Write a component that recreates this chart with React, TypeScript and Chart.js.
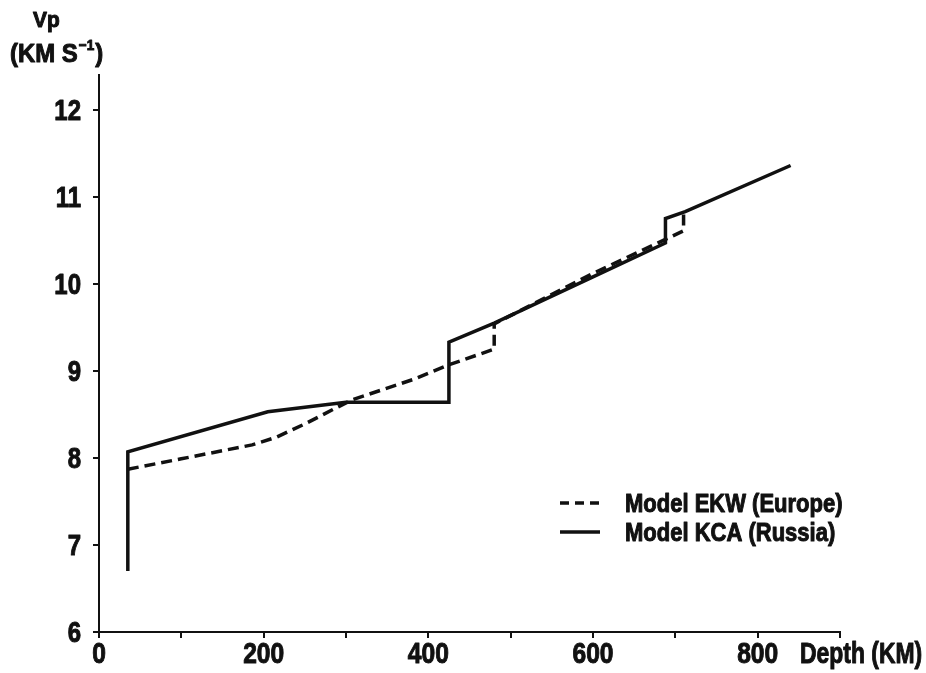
import React, { useEffect, useRef } from "react";
import { Chart, registerables } from "chart.js";

Chart.register(...registerables);

// KCA (Russia) model – solid line
const kcaDepth = [35, 35, 205, 300, 425, 425, 480, 600, 688, 688, 712, 840];
const kcaVp = [6.7, 8.07, 8.53, 8.64, 8.64, 9.33, 9.55, 10.08, 10.47, 10.75, 10.83, 11.36];

// EKW (Europe) model – dashed line
const ekwDepth = [35, 100, 186, 216, 252, 289, 308, 381, 425, 480, 480, 600, 710, 710];
const ekwVp = [7.87, 7.99, 8.15, 8.24, 8.4, 8.58, 8.67, 8.9, 9.07, 9.25, 9.54, 10.12, 10.61, 10.83];

const seriesNames = ["Model EKW (Europe)", "Model KCA (Russia)"];
const xLabelTicks = [0, 200, 400, 600, 800];
const yTickValues = [6, 7, 8, 9, 10, 11, 12];
const xAxisTitle = "Depth (KM)";
const yAxisTitle1 = "Vp";
const yAxisTitle2a = "(KM S";
const yAxisTitle2sup = "\u22121";
const yAxisTitle2b = ")";

const FONT = "'Liberation Sans', Arial, sans-serif";
const INK = "#111111";

function drawText(
  ctx: CanvasRenderingContext2D,
  text: string,
  x: number,
  y: number,
  size: number,
  sx: number,
  align: "left" | "right" | "center" = "left"
) {
  ctx.save();
  ctx.font = `bold ${size}px ${FONT}`;
  ctx.textAlign = "left";
  ctx.textBaseline = "alphabetic";
  const w = ctx.measureText(text).width * sx;
  const left = align === "right" ? x - w : align === "center" ? x - w / 2 : x;
  ctx.translate(left, y);
  ctx.scale(sx, 1);
  ctx.fillText(text, 0, 0);
  ctx.strokeStyle = INK;
  ctx.lineWidth = 1;
  ctx.lineJoin = "round";
  ctx.strokeText(text, 0, 0);
  ctx.restore();
  return w;
}

const textPlugin = {
  id: "textPlugin",
  afterDraw(chart: any) {
    const ctx: CanvasRenderingContext2D = chart.ctx;
    const ca = chart.chartArea;
    const xs = chart.scales.x;
    const ys = chart.scales.y;
    ctx.save();
    ctx.fillStyle = INK;

    // tick labels
    for (const v of yTickValues) {
      const py = ys.getPixelForValue(v);
      drawText(ctx, String(v), ca.left - 18, py + 10, 30, 0.8, "right");
    }
    for (const v of xLabelTicks) {
      const px = xs.getPixelForValue(v);
      drawText(ctx, String(v), px, ca.bottom + 31, 30, 0.82, "center");
    }

    // y axis title
    drawText(ctx, yAxisTitle1, 33, 27, 22, 0.95);
    let x = 10;
    x += drawText(ctx, yAxisTitle2a, x, 62, 26, 0.92) + 1;
    x += drawText(ctx, yAxisTitle2sup, x, 50, 15, 0.9) + 1;
    drawText(ctx, yAxisTitle2b, x, 62, 26, 0.92);

    // x axis title
    drawText(ctx, xAxisTitle, ca.right - 40, ca.bottom + 31, 29, 0.79);

    // legend
    const lx = ca.left + 461;
    const rows = [ca.top + 428, ca.top + 457];
    ctx.strokeStyle = INK;
    ctx.lineWidth = 3.5;
    for (let i = 0; i < 2; i++) {
      ctx.beginPath();
      ctx.setLineDash(i === 0 ? [9, 6] : []);
      ctx.moveTo(lx, rows[i]);
      ctx.lineTo(lx + 40, rows[i]);
      ctx.stroke();
    }
    ctx.setLineDash([]);
    for (let i = 0; i < 2; i++) {
      drawText(ctx, seriesNames[i], lx + 65, rows[i] + 9, 25, 0.88);
    }
    ctx.restore();
  },
};

export default function App() {
  const ref = useRef<HTMLCanvasElement | null>(null);
  useEffect(() => {
    if (!ref.current) return;
    const chart = new Chart(ref.current, {
      type: "line",
      data: {
        datasets: [
          {
            label: seriesNames[0],
            data: ekwDepth.map((d, i) => ({ x: d, y: ekwVp[i] })),
            borderColor: INK,
            borderWidth: 3.5,
            borderDash: [11, 6],
            pointRadius: 0,
            tension: 0,
            fill: false,
          },
          {
            label: seriesNames[1],
            data: kcaDepth.map((d, i) => ({ x: d, y: kcaVp[i] })),
            borderColor: INK,
            borderWidth: 3.5,
            pointRadius: 0,
            tension: 0,
            fill: false,
          },
        ],
      },
      options: {
        animation: false,
        responsive: false,
        layout: { padding: { top: 75, right: 86, left: 0, bottom: 0 } },
        plugins: { legend: { display: false }, tooltip: { enabled: false }, title: { display: false } },
        scales: {
          x: {
            type: "linear",
            min: 0,
            max: 900,
            afterFit: (s: any) => {
              s.height = 41;
            },
            ticks: { stepSize: 100, display: false, autoSkip: false },
            grid: { drawOnChartArea: false, drawTicks: true, tickLength: 6, color: INK, lineWidth: 2 },
            border: { display: true, color: INK, width: 2 },
          },
          y: {
            type: "linear",
            min: 6,
            max: 12.4,
            afterFit: (s: any) => {
              s.width = 99;
            },
            afterBuildTicks: (s: any) => {
              s.ticks = yTickValues.map((v) => ({ value: v }));
            },
            ticks: { display: false, autoSkip: false },
            grid: { drawOnChartArea: false, drawTicks: true, tickLength: 6, color: INK, lineWidth: 2 },
            border: { display: true, color: INK, width: 2 },
          },
        },
      },
      plugins: [textPlugin],
    });
    return () => chart.destroy();
  }, []);
  return (
    <div style={{ position: "absolute", left: 0, top: 0, width: 926, height: 673, background: "#fff" }}>
      <canvas ref={ref} width={926} height={673} style={{ display: "block" }} />
    </div>
  );
}
